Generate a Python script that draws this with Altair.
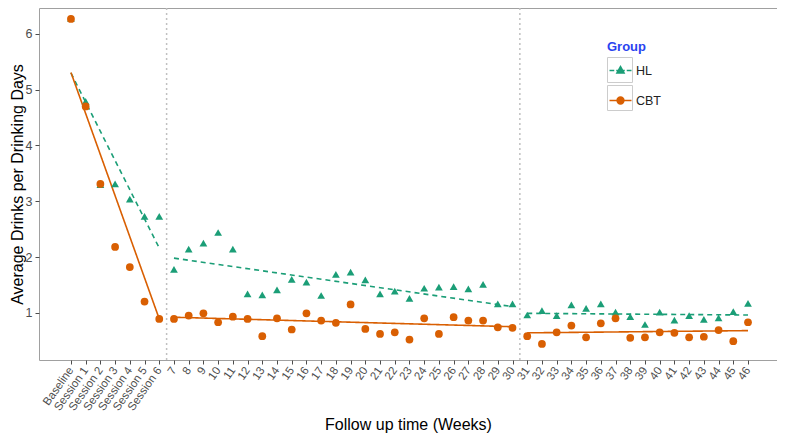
import json
import altair as alt
import pandas as pd

categories = ["Baseline", "Session 1", "Session 2", "Session 3", "Session 4", "Session 5", "Session 6",
              "7", "8", "9", "10", "11", "12", "13", "14", "15", "16", "17", "18", "19", "20",
              "21", "22", "23", "24", "25", "26", "27", "28", "29", "30",
              "31", "32", "33", "34", "35", "36", "37", "38", "39", "40",
              "41", "42", "43", "44", "45", "46"]

hl_values = [6.28, 4.79, 3.30, 3.31, 3.04, 2.73, 2.73,
             1.78, 2.14, 2.25, 2.44, 2.14, 1.34, 1.32, 1.41, 1.60, 1.55, 1.31, 1.69, 1.73,
             1.59, 1.34, 1.39, 1.26, 1.44, 1.46, 1.47, 1.43, 1.51, 1.16, 1.16,
             0.96, 1.04, 0.95, 1.14, 1.08, 1.16, 1.01, 0.93, 0.79, 1.01,
             0.87, 0.95, 0.88, 0.91, 1.02, 1.17]

cbt_values = [6.27, 4.70, 3.31, 2.18, 1.82, 1.20, 0.89,
              0.89, 0.95, 0.99, 0.83, 0.93, 0.89, 0.58, 0.90, 0.70, 0.99, 0.86, 0.82, 1.15,
              0.71, 0.62, 0.65, 0.52, 0.90, 0.62, 0.92, 0.86, 0.86, 0.74, 0.73,
              0.58, 0.44, 0.65, 0.77, 0.56, 0.81, 0.90, 0.55, 0.56, 0.65,
              0.64, 0.56, 0.57, 0.69, 0.49, 0.83]

groups = ["HL", "CBT"]
group_colors = ["#1b9e77", "#d95f02"]

# fitted trend segments
fit_group = ["HL"] * 6 + ["CBT"] * 6
fit_segment = [1, 1, 2, 2, 3, 3, 1, 1, 2, 2, 3, 3]
fit_x = [0, 6, 7, 30, 31, 46, 0, 6, 7, 30, 31, 46]
fit_y = [5.30, 2.16, 1.98, 1.11, 0.99, 0.96, 5.31, 0.89, 0.92, 0.75, 0.64, 0.68]

phase_breaks = [6.5, 30.5]

pts = pd.DataFrame({
    "Group": ["HL"] * len(hl_values) + ["CBT"] * len(cbt_values),
    "idx": list(range(len(hl_values))) + list(range(len(cbt_values))),
    "Value": hl_values + cbt_values,
})
fits = pd.DataFrame({"Group": fit_group, "seg": fit_segment, "idx": fit_x, "Value": fit_y})
breaks = pd.DataFrame({"idx": phase_breaks})

label_expr = "[" + ",".join(json.dumps(c) for c in categories) + "][datum.value]"
legend_color_expr = ("datum.value == " + json.dumps(groups[0]) + " ? " + json.dumps(group_colors[0])
                     + " : " + json.dumps(group_colors[1]))

xscale = alt.Scale(domain=[-2.17, 47.97], nice=False, zero=False)
yscale = alt.Scale(domain=[0.153, 6.466], nice=False, zero=False)

x_axis = alt.Axis(values=list(range(len(categories))), labelExpr=label_expr,
                  labelAngle=305, labelAlign="right", labelBaseline="middle",
                  labelPadding=4, labelFontSize=11.5, labelOverlap=False,
                  title="Follow up time (Weeks)", titleFontSize=16, titleFontWeight="normal",
                  titleY=64, titleBaseline="middle")
y_axis = alt.Axis(values=[1, 2, 3, 4, 5, 6], labelFontSize=12.5, labelPadding=3,
                  title="Average Drinks per Drinking Days", titleFontSize=16,
                  titleFontWeight="normal", titlePadding=0)

color_scale = alt.Scale(domain=groups, range=group_colors)

rules = alt.Chart(breaks).mark_rule(color="#c0c0c0", strokeDash=[2, 3], strokeWidth=1.5).encode(
    x=alt.X("idx:Q", scale=xscale, axis=x_axis)
)

lines = alt.Chart(fits).mark_line(strokeWidth=1.6).encode(
    x=alt.X("idx:Q", scale=xscale, axis=x_axis),
    y=alt.Y("Value:Q", scale=yscale, axis=y_axis),
    color=alt.Color("Group:N", scale=color_scale, legend=None),
    strokeDash=alt.StrokeDash("Group:N", scale=alt.Scale(domain=groups, range=[[5, 4], [1, 0]]), legend=None),
    detail="seg:N",
)

points = alt.Chart(pts).mark_point(filled=True, size=60, opacity=1).encode(
    x=alt.X("idx:Q", scale=xscale, axis=x_axis),
    y=alt.Y("Value:Q", scale=yscale, axis=y_axis),
    color=alt.Color("Group:N", scale=color_scale, legend=None),
    shape=alt.Shape("Group:N", scale=alt.Scale(domain=groups, range=["triangle-up", "circle"]), legend=None),
)

# legend key glyphs; the degenerate corner points fix each key's bounds to the full key box
extent = "M-1,-1L-1,-1M1,1L1,1"
hl_key = extent + "M-0.88,0H-0.5M-0.34,0H0.34M0.5,0H0.88M0,-0.3L0.28,0.2L-0.28,0.2Z"
cbt_key = extent + "M-0.88,0H0.88M0.27,0A0.27,0.27 0 1,1 -0.27,0A0.27,0.27 0 1,1 0.27,0Z"

# grey key boxes (ggplot-style legend keys)
box_layer = alt.Chart(pts).transform_filter(alt.datum.Value < -100).mark_point(
    filled=False, stroke="#cccccc", strokeWidth=1, opacity=1
).encode(
    x=alt.X("idx:Q", scale=xscale, axis=x_axis),
    y=alt.Y("Value:Q", scale=yscale, axis=y_axis),
    shape=alt.Shape("Group:N", scale=alt.Scale(domain=groups, range=["square", "square"]),
                    legend=alt.Legend(title=None, orient="none", legendX=568, legendY=49,
                                      symbolSize=625, symbolStrokeWidth=1, symbolOpacity=1,
                                      labelExpr="''", rowPadding=-7, padding=0, labelOffset=0)),
)

legend_layer = alt.Chart(pts).transform_filter(alt.datum.Value < -100).mark_point(
    filled=True, fill={"expr": legend_color_expr}, stroke={"expr": legend_color_expr}, strokeWidth=1.6
).encode(
    x=alt.X("idx:Q", scale=xscale, axis=x_axis),
    y=alt.Y("Value:Q", scale=yscale, axis=y_axis),
    shape=alt.Shape("Group:N", scale=alt.Scale(domain=groups, range=[hl_key, cbt_key]),
                    legend=alt.Legend(title="Group", orient="none", legendX=568, legendY=33,
                                      symbolSize=625, symbolStrokeWidth=1.6,
                                      symbolOpacity=1,
                                      labelFontSize=12.5, labelOffset=2, rowPadding=-7,
                                      titleFontSize=13, titleColor="#2a43f0",
                                      titleFontWeight="bold", titlePadding=3,
                                      labelColor="#222222", padding=0)),
)

chart = alt.layer(rules, lines, points, box_layer, legend_layer).resolve_scale(
    color="independent", shape="independent"
).properties(
    width=738, height=352,
    autosize=alt.AutoSizeParams(type="none"),
    padding={"left": 31, "top": 0, "right": 0, "bottom": 73},
).configure_view(stroke="#a0a0a0", strokeWidth=1).configure_axis(
    domain=False, grid=False, tickColor="#4d4d4d", tickSize=4,
    labelColor="#4d4d4d", titleColor="#000000",
    labelFont="Liberation Sans", titleFont="Liberation Sans",
).configure_legend(labelFont="Liberation Sans", titleFont="Liberation Sans")

chart.save("out.html", embed_options={"renderer": "svg", "actions": False})
